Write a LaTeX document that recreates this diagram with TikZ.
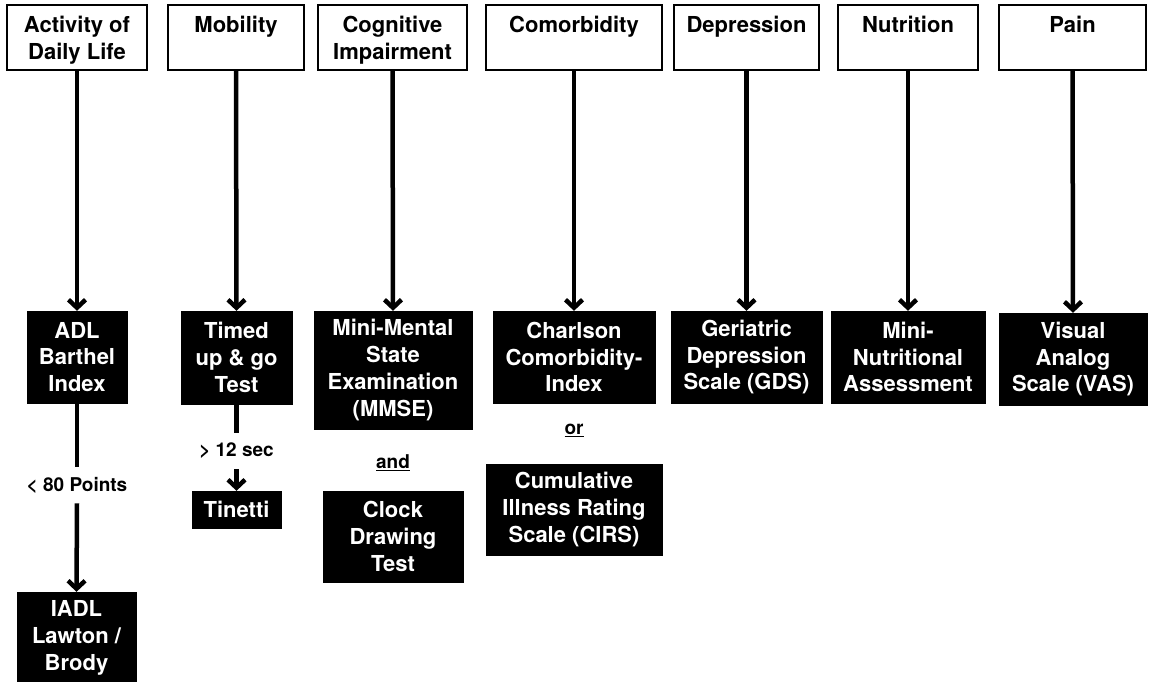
\documentclass[tikz,border=0pt]{standalone}
\usepackage{fontspec}
\setmainfont{TeX Gyre Heros}
\usetikzlibrary{arrows.meta}

\begin{document}
\begin{tikzpicture}[x=1pt, y=-1pt,
		topbox/.style={draw, line width=1.2pt, minimum height=65pt, inner sep=0pt, align=center, text depth=0pt, font=\fontsize{22}{26.7}\selectfont\bfseries},
		blackbox/.style={draw, fill=black, text=white, inner sep=0pt, align=center, font=\fontsize{22}{26.7}\selectfont\bfseries},
		cond/.style={inner xsep=2pt, inner ysep=10pt, align=center, font=\fontsize{19}{23}\selectfont\bfseries},
		link/.style={line width=4.5pt},
		arr/.style={line width=4.5pt, -{Straight Barb[length=8pt, width=17pt]}}]
			%%%%% START %%%%%
			
			\clip (0, 0) rectangle (1150, 681);
			
			% domains
			\node[topbox, minimum width=140pt] (act) at (77, 37.5) {Activity of\\Daily Life};
			\node[topbox, minimum width=136pt] (mob) at (236, 37.5) {Mobility\\\mbox{}};
			\node[topbox, minimum width=149pt] (cog) at (392.5, 37.5) {Cognitive\\Impairment};
			\node[topbox, minimum width=176pt] (com) at (574, 37.5) {Comorbidity\\\mbox{}};
			\node[topbox, minimum width=145pt] (dep) at (746.5, 37.5) {Depression\\\mbox{}};
			\node[topbox, minimum width=140pt] (nut) at (908, 37.5) {Nutrition\\\mbox{}};
			\node[topbox, minimum width=147pt] (pain) at (1072.5, 37.5) {Pain\\\mbox{}};
			
			% assessments
			\node[blackbox, minimum width=100pt, minimum height=92pt] (barthel) at (77, 357) {ADL\\Barthel\\Index};
			\node[blackbox, minimum width=111pt, minimum height=93pt] (tug) at (236.5, 357.5) {Timed\\up \& go\\Test};
			\node[blackbox, minimum width=158pt, minimum height=118pt] (mmse) at (393, 370) {Mini-Mental\\State\\Examination\\(MMSE)};
			\node[blackbox, minimum width=162pt, minimum height=92pt] (cci) at (574, 357) {Charlson\\Comorbidity-\\Index};
			\node[blackbox, minimum width=151pt, minimum height=92pt] (gds) at (746.5, 357) {Geriatric\\Depression\\Scale (GDS)};
			\node[blackbox, minimum width=154pt, minimum height=92pt] (mna) at (908, 357) {Mini-\\Nutritional\\Assessment};
			\node[blackbox, minimum width=148pt, minimum height=92pt] (vas) at (1073, 359) {Visual\\Analog\\Scale (VAS)};
			
			% follow-up
			\node[cond] (pts) at (77, 485) {< 80 Points};
			\node[blackbox, minimum width=119pt, minimum height=92pt] (iadl) at (76.5, 638) {IADL\\Lawton /\\Brody};
			\node[cond] (sec) at (236.5, 451) {> 12 sec};
			\node[blackbox, minimum width=89pt, minimum height=37pt] (tinetti) at (236.5, 509.5) {Tinetti};
			\node[cond] (and) at (393, 463) {\underline{and}};
			\node[blackbox, minimum width=140pt, minimum height=91pt] (clock) at (393, 536.5) {Clock\\Drawing\\Test};
			\node[cond] (or) at (574, 430) {\underline{or}};
			\node[blackbox, minimum width=176pt, minimum height=91pt] (cirs) at (574, 509.5) {Cumulative\\Illness Rating\\Scale (CIRS)};
			
			% arrows
			\foreach \a/\b in {act/barthel, mob/tug, cog/mmse, com/cci, dep/gds, nut/mna, pain/vas}
				\draw[arr] (\a.south) -- (\b.north);
			
			\draw[link] (barthel.south) -- (pts.north);
			\draw[arr] (pts.south) -- (iadl.north);
			\draw[link] (tug.south) -- (sec.north);
			\draw[arr] (sec.south) -- (tinetti.north);
			
			%%%%% END %%%%%
		\end{tikzpicture}
\end{document}
